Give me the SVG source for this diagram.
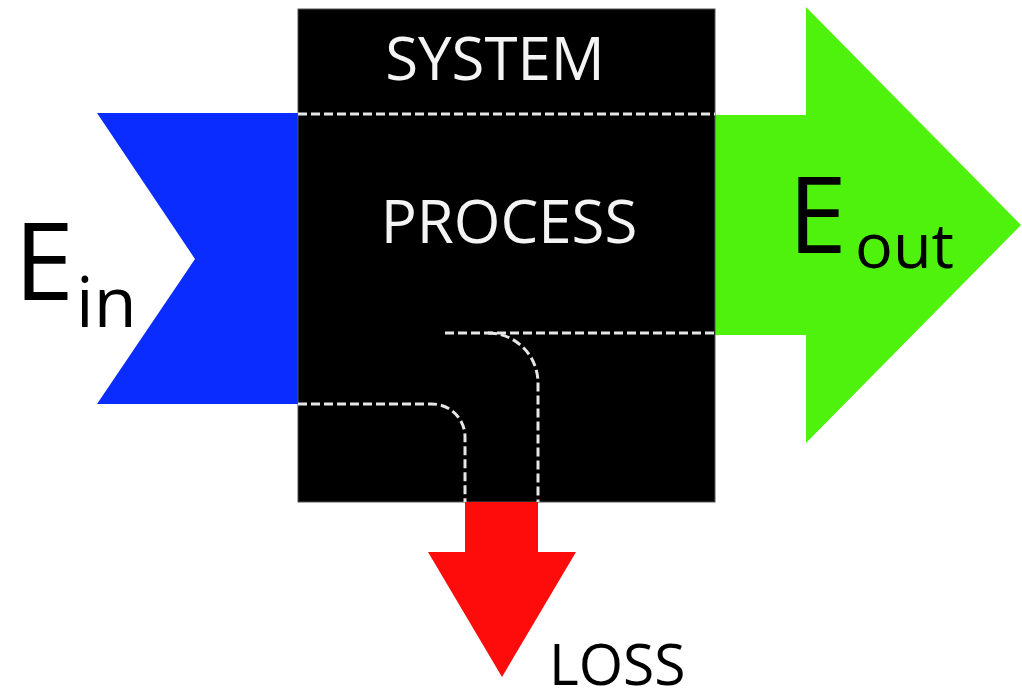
<svg xmlns="http://www.w3.org/2000/svg" width="1022" height="691" viewBox="0 0 1022 691">
<style>
.t{font-family:"Open Sans","Liberation Sans",sans-serif;}
.w{fill:#f4f4f4;}
.k{fill:#000;}
.d{fill:none;stroke:#e6e6e6;stroke-width:3;stroke-dasharray:9 4;}
</style>
<rect width="1022" height="691" fill="#fff"/>
<g id="input">
<polygon points="97,113 298,113 298,404 97,404 195,259" fill="#0a2cff"/>
<text class="t k" x="14" y="300" font-size="108">E</text>
<text class="t k" x="76" y="327" font-size="70">in</text>
</g>
<g id="output">
<polygon points="715,115 806,115 806,7 1021,225 806,443 806,335 715,335" fill="#4ef20c"/>
<text class="t k" x="788" y="253" font-size="106">E</text>
<text class="t k" x="855" y="268" font-size="63">out</text>
</g>
<g id="system">
<rect x="298" y="9" width="417" height="493" fill="#000" stroke="#555" stroke-width="1"/>
<text class="t w" x="495" y="80" font-size="60" text-anchor="middle">SYSTEM</text>
<text class="t w" x="509" y="243" font-size="60" text-anchor="middle">PROCESS</text>
</g>
<g id="loss">
<polygon points="465,502 538,502 538,552 576,552 502,677 428,552 465,552" fill="#fe0b0b"/>
<text class="t k" x="549" y="685" font-size="57">LOSS</text>
</g>
<g id="connectors">
<path class="d" d="M298,114 H715"/>
<path class="d" d="M445,333 H715"/>
<path class="d" d="M488,333 A50,50 0 0 1 538,383 V502"/>
<path class="d" d="M298,404 H432 A33,33 0 0 1 465,437 V502"/>
</g>
</svg>
